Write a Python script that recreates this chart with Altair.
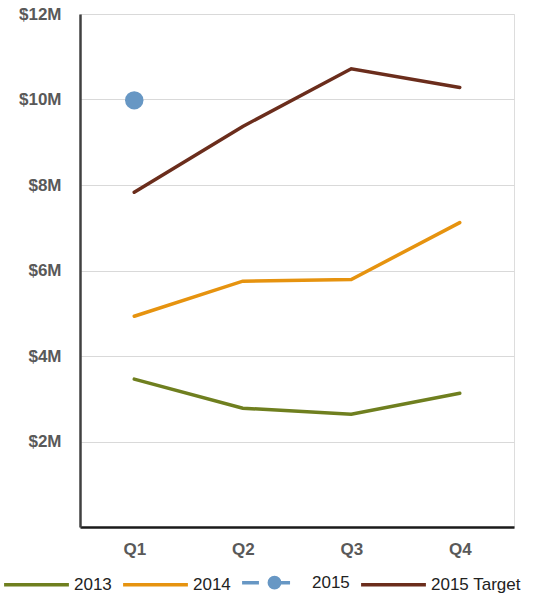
import altair as alt
import pandas as pd

quarters = ["Q1", "Q2", "Q3", "Q4"]
series_names = ["2013", "2014", "2015", "2015 Target"]
s2013 = [3.46, 2.78, 2.64, 3.13]
s2014 = [4.93, 5.75, 5.79, 7.12]
s2015 = [9.98]
target = [7.83, 9.37, 10.72, 10.28]
colors = ["#6f7f1f", "#e6930f", "#6797c4", "#6b2d1c"]

rows = []
for name, vals in zip(series_names, [s2013, s2014, s2015, target]):
    for q, v in zip(quarters, vals):
        rows.append({"quarter": q, "value": v, "series": name})
df = pd.DataFrame(rows)

color_scale = alt.Scale(domain=series_names, range=colors)

dot_path = ("M-1,0L-0.48,0M0,0L0.48,0"
            "M0.16,0A0.16,0.16,0,1,1,-0.16,0A0.16,0.16,0,1,1,0.16,0Z"
            "M0.08,0A0.08,0.08,0,1,1,-0.08,0A0.08,0.08,0,1,1,0.08,0Z"
            "M0.02,0A0.02,0.02,0,1,1,-0.02,0A0.02,0.02,0,1,1,0.02,0Z")
shape_scale = alt.Scale(domain=series_names, range=["stroke", "stroke", dot_path, "stroke"])

x_enc = alt.X("quarter:N", sort=quarters,
              scale=alt.Scale(type="point", padding=0.5),
              axis=alt.Axis(title=None, labelAngle=0, labelFont="Liberation Sans",
                            labelFontSize=17, labelFontWeight="bold", labelColor="#595959",
                            labelPadding=14, ticks=False, domainColor="#1a1a1a",
                            domainWidth=2.5, grid=False))
y_enc = alt.Y("value:Q", scale=alt.Scale(domain=[0, 12], nice=False),
              axis=alt.Axis(title=None, values=[0, 2, 4, 6, 8, 10, 12],
                            labelExpr="datum.value == 0 ? '' : '$' + datum.value + 'M'",
                            labelFont="Liberation Sans", labelFontSize=17,
                            labelFontWeight="bold", labelColor="#595959",
                            labelPadding=19, ticks=False, domainColor="#404040",
                            domainWidth=2.5, gridColor="#d9d9d9", gridWidth=1.2))

legend = alt.Legend(
    title=None, orient="none", legendX=-78, legendY=534,
    direction="horizontal",
    symbolSize=4200, symbolStrokeWidth=3.5,
    labelFont="Liberation Sans", labelFontSize=17,
    labelColor="#222222", columnPadding=4, labelOffset=3, symbolOffset=0,
)

# legend-only layer (no rows drawn)
legend_layer = alt.Chart(df).transform_filter("false").mark_point(
    filled=False, opacity=1
).encode(
    x=x_enc, y=y_enc,
    color=alt.Color("series:N", scale=color_scale, legend=legend),
    shape=alt.Shape("series:N", scale=shape_scale, legend=legend),
)

lines = alt.Chart(df).transform_filter(alt.datum.series != "2015").mark_line(
    strokeWidth=3.5, strokeCap="round"
).encode(
    x=x_enc, y=y_enc,
    color=alt.Color("series:N", scale=color_scale, legend=None),
)

points = alt.Chart(df).transform_filter(alt.datum.series == "2015").mark_point(
    filled=True, size=340, opacity=1, shape="circle"
).encode(
    x=x_enc, y=y_enc,
    color=alt.Color("series:N", scale=color_scale, legend=None),
)

chart = alt.layer(legend_layer, lines, points).properties(
    width=434, height=513,
    autosize=alt.AutoSizeParams(type="none"),
    padding={"left": 80, "top": 14, "right": 27, "bottom": 72},
).configure_view(stroke=None).configure(background="white")

chart.save("out.html", embed_options={"renderer": "svg", "actions": False})
